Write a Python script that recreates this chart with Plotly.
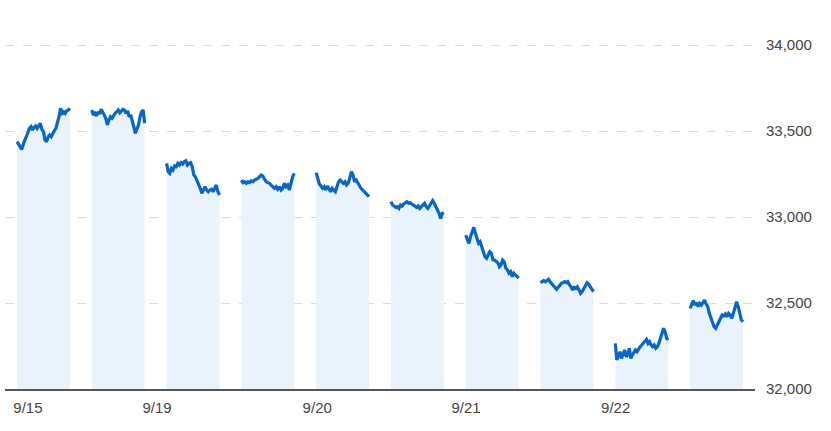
import plotly.graph_objects as go

# Intraday values (index points), one list per trading session (morning / afternoon)
sep15_am = [33438, 33419, 33409, 33393, 33428, 33448, 33467, 33496, 33515, 33525, 33506, 33521,
            33529, 33515, 33535, 33545, 33510, 33496, 33448, 33438, 33467, 33477, 33467, 33487,
            33502, 33515, 33545, 33583, 33632, 33603, 33612, 33603, 33618, 33622, 33632]
sep15_pm = [33622, 33593, 33603, 33587, 33612, 33599, 33626, 33612, 33593, 33574, 33535, 33564,
            33583, 33574, 33593, 33603, 33612, 33622, 33606, 33618, 33626, 33622, 33603, 33618,
            33583, 33593, 33564, 33525, 33487, 33515, 33535, 33583, 33612, 33622, 33545]
sep19_am = [33312, 33264, 33254, 33283, 33273, 33297, 33293, 33312, 33302, 33316, 33308, 33322,
            33327, 33302, 33312, 33316, 33293, 33244, 33234, 33215, 33196, 33167, 33138, 33157,
            33176, 33157, 33147, 33157, 33161, 33147, 33167, 33186, 33147, 33128]
sep19_pm = [33215, 33200, 33205, 33196, 33205, 33200, 33211, 33205, 33215, 33219, 33225, 33234,
            33244, 33238, 33225, 33205, 33200, 33196, 33186, 33176, 33167, 33176, 33161, 33176,
            33157, 33167, 33196, 33176, 33186, 33157, 33196, 33234, 33254]
sep20_am = [33258, 33215, 33192, 33180, 33167, 33176, 33157, 33180, 33167, 33147, 33167, 33157,
            33147, 33176, 33205, 33215, 33205, 33196, 33205, 33186, 33196, 33225, 33264, 33244,
            33205, 33215, 33196, 33186, 33167, 33157, 33147, 33138, 33128, 33118]
sep20_pm = [33089, 33070, 33064, 33056, 33060, 33050, 33070, 33064, 33076, 33083, 33089, 33080,
            33083, 33076, 33070, 33060, 33056, 33064, 33050, 33060, 33070, 33080, 33060, 33050,
            33064, 33080, 33095, 33080, 33060, 33045, 33021, 32992, 33021, 33025]
sep21_am = [32895, 32876, 32847, 32886, 32915, 32940, 32905, 32866, 32847, 32856, 32827, 32789,
            32769, 32760, 32779, 32798, 32789, 32750, 32750, 32740, 32734, 32711, 32721, 32750,
            32740, 32702, 32692, 32673, 32682, 32653, 32673, 32663, 32653, 32644]
sep21_pm = [32618, 32624, 32630, 32624, 32634, 32638, 32624, 32614, 32605, 32595, 32580, 32591,
            32605, 32614, 32618, 32624, 32618, 32624, 32605, 32595, 32576, 32591, 32585, 32595,
            32576, 32556, 32566, 32585, 32605, 32618, 32610, 32595, 32576, 32566]
sep22_am = [32265, 32169, 32188, 32217, 32178, 32207, 32227, 32188, 32198, 32237, 32178, 32198,
            32217, 32227, 32217, 32237, 32246, 32256, 32265, 32275, 32289, 32265, 32275, 32256,
            32246, 32256, 32237, 32246, 32265, 32295, 32324, 32353, 32333, 32295, 32285]
sep22_pm = [32469, 32498, 32514, 32488, 32502, 32479, 32498, 32488, 32508, 32517, 32494, 32479,
            32440, 32411, 32382, 32362, 32353, 32372, 32401, 32420, 32430, 32425, 32436, 32420,
            32440, 32430, 32411, 32440, 32479, 32508, 32479, 32430, 32401, 32391]

sessions = [sep15_am, sep15_pm, sep19_am, sep19_pm, sep20_am,
            sep20_pm, sep21_am, sep21_pm, sep22_am, sep22_pm]

date_labels = ["9/15", "9/19", "9/20", "9/21", "9/22"]
date_label_pos = [31, 397, 851, 1273, 1697]   # label positions on the session-time axis

y_ticks = [32000, 32500, 33000, 33500, 34000]

SESSION_MINUTES = 150   # length of a session
SESSION_PITCH = 212     # spacing between session starts (includes the gap)

LINE = "#0866c6"
FILL = "#eaf3fb"

fig = go.Figure()
for k, vals in enumerate(sessions):
    n = len(vals)
    xs = [k * SESSION_PITCH + i * SESSION_MINUTES / (n - 1) for i in range(n)]
    fig.add_trace(go.Scatter(
        x=xs, y=vals, mode="lines",
        line=dict(color=LINE, width=3.2),
        fill="tozeroy", fillcolor=FILL,
        showlegend=False, hoverinfo="skip",
    ))

fig.update_layout(
    width=831, height=431,
    margin=dict(l=5, r=76, t=44, b=42),
    paper_bgcolor="white", plot_bgcolor="white",
    font=dict(family="Liberation Sans, Arial, sans-serif", size=15, color="#444"),
    showlegend=False,
)
fig.update_xaxes(
    range=[-34, 2092],
    tickvals=date_label_pos, ticktext=date_labels,
    showgrid=False, zeroline=False,
    showline=True, linecolor="#555", linewidth=2,
    ticks="", ticklabelstandoff=4,
    tickfont=dict(size=15, color="#444"),
)
fig.update_yaxes(
    range=[32000, 34006],
    side="right",
    tickvals=y_ticks, ticktext=[f"{v:,}" for v in y_ticks],
    showgrid=True, gridcolor="#dcdcdc", griddash="dash", gridwidth=1,
    zeroline=False, showline=False, ticks="",
    ticklabelstandoff=10,
    tickfont=dict(size=15, color="#444"),
)

fig.write_html("out.html", config={"displayModeBar": False},
               post_script="document.body.style.margin='0';")
